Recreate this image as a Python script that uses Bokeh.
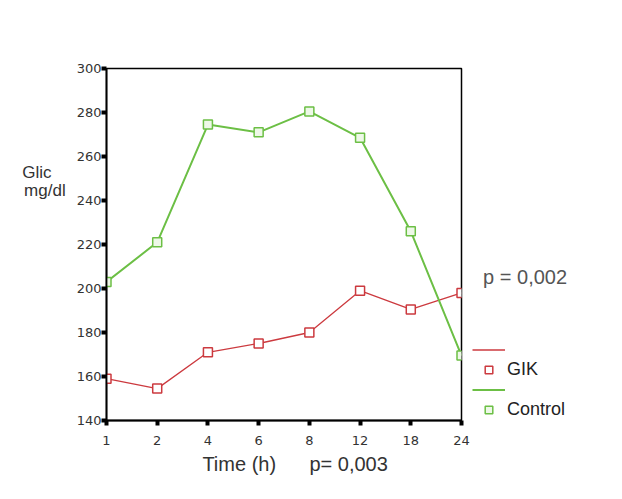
from bokeh.plotting import figure
from bokeh.models import (Range1d, FixedTicker, Legend, LegendItem)
from bokeh.embed import file_html
from bokeh.resources import INLINE

# ---- data ----
time_labels = ["1", "2", "4", "6", "8", "12", "18", "24"]
gik = [159, 154.5, 171, 175, 180, 199, 190.5, 198]
control = [203, 221, 274.5, 271, 280.5, 268.5, 226, 169.5]
y_ticks = [140, 160, 180, 200, 220, 240, 260, 280, 300]

idx = list(range(len(time_labels)))

RED = "#cc3a3f"
GREEN = "#6cbf45"
FONT = "Liberation Sans"
NB = "\u00a0"

p = figure(frame_width=355, frame_height=352, output_backend="svg",
           toolbar_location=None,
           x_range=Range1d(0, len(idx) - 1), y_range=Range1d(140, 300),
           min_border_left=106, min_border_right=161, min_border_top=68,
           min_border_bottom=79)
p.xgrid.visible = False
p.ygrid.visible = False
p.outline_line_color = "black"
p.outline_line_width = 1.5
p.background_fill_color = "white"
p.border_fill_color = "white"

# axes
for ax in (p.xaxis[0], p.yaxis[0]):
    ax.axis_line_color = "black"
    ax.axis_line_width = 1.8
    ax.major_tick_line_color = "black"
    ax.major_tick_line_width = 4
    ax.major_tick_in = 0
    ax.major_tick_out = 5
    ax.minor_tick_line_color = None
    ax.major_label_text_font = "DejaVu Sans"
    ax.major_label_text_font_size = "13px"
    ax.major_label_text_color = "#333333"
    ax.axis_label_text_font = FONT
    ax.axis_label_text_font_style = "normal"

p.yaxis[0].ticker = FixedTicker(ticks=y_ticks)
p.yaxis[0].major_label_standoff = 0
p.yaxis[0].axis_label = "Glic" + NB * 3 + "\nmg/dl" + ("\n" + NB) * 7
p.yaxis[0].axis_label_orientation = "horizontal"
p.yaxis[0].axis_label_text_font_size = "17px"
p.yaxis[0].axis_label_text_line_height = 0.95
p.yaxis[0].axis_label_text_color = "#333333"
p.yaxis[0].axis_label_standoff = 8

p.xaxis[0].ticker = FixedTicker(ticks=idx)
p.xaxis[0].major_label_overrides = {i: t for i, t in zip(idx, time_labels)}
p.xaxis[0].major_label_standoff = 10
p.xaxis[0].axis_label = NB * 4 + "Time (h)" + NB * 6 + "p= 0,003"
p.xaxis[0].axis_label_text_font_size = "20px"
p.xaxis[0].axis_label_text_color = "#333333"
p.xaxis[0].axis_label_standoff = 5

# series
gl = p.line(idx, gik, line_color=RED, line_width=1.3)
gs = p.scatter(idx, gik, marker="square", size=9, line_color=RED,
               line_width=1.5, fill_color="white")
cl = p.line(idx, control, line_color=GREEN, line_width=2)
cs = p.scatter(idx, control, marker="square", size=9, line_color=GREEN,
               line_width=1.5, fill_color="#eef8e8")

legend = Legend(items=[
    LegendItem(label=" ", renderers=[gl]),
    LegendItem(label="GIK", renderers=[gs]),
    LegendItem(label=" ", renderers=[cl]),
    LegendItem(label="Control", renderers=[cs]),
], location=(11, 0), glyph_width=33, glyph_height=19, label_height=19,
   padding=0, margin=0, spacing=0, label_standoff=2,
   border_line_color=None, background_fill_alpha=0,
   label_text_font=FONT, label_text_font_size="18px",
   label_text_color="#222222",
   title=NB * 2 + "p = 0,002", title_text_font=FONT,
   title_text_font_size="20px", title_text_font_style="normal",
   title_text_color="#555555", title_standoff=51)
p.add_layout(legend, "right")

open("out.html", "w").write(file_html(p, INLINE))
